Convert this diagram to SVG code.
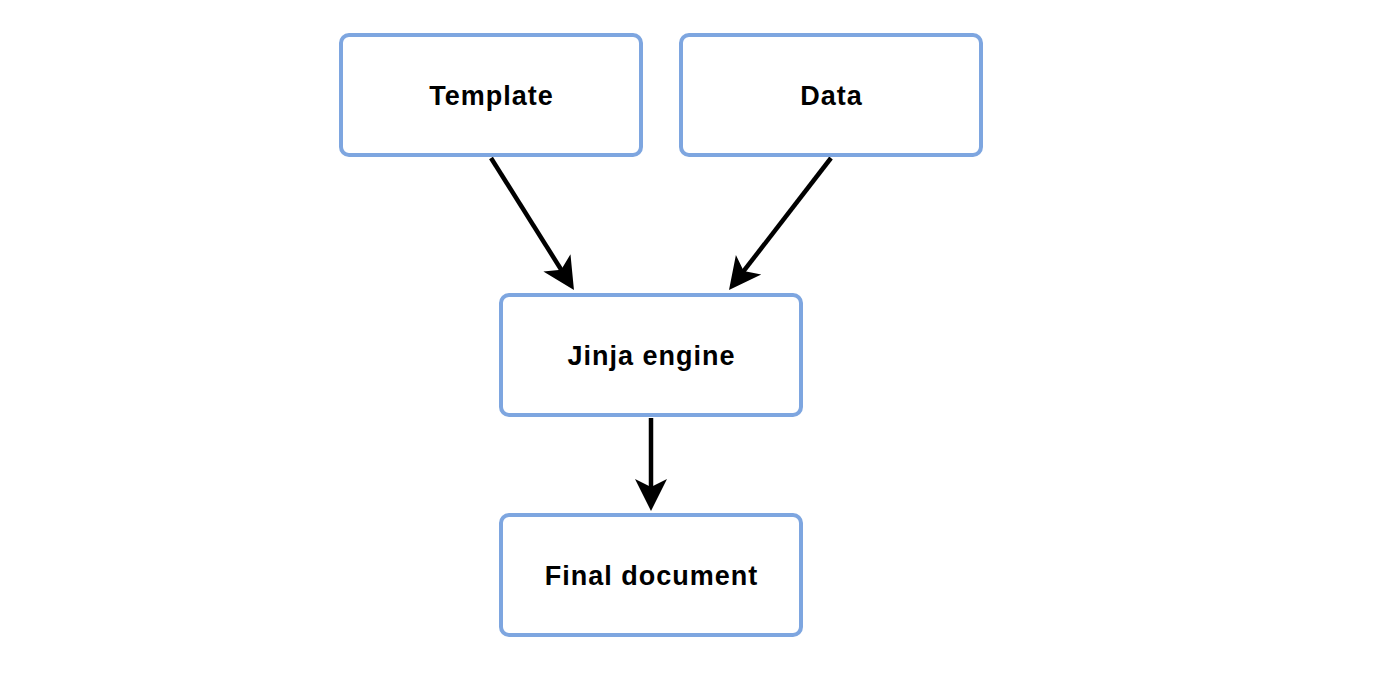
<svg xmlns="http://www.w3.org/2000/svg" width="1378" height="688" viewBox="0 0 1378 688">
<style>
.box{fill:#fff;stroke:#7EA6E0;stroke-width:4}
.lbl{font-family:"Liberation Sans",Arial,sans-serif;font-weight:bold;font-size:27px;letter-spacing:1px;fill:#000;text-anchor:middle}
.edge{stroke:#000;stroke-width:4.5;fill:none}
</style>
<defs>
<marker id="ah" markerUnits="userSpaceOnUse" markerWidth="36" markerHeight="36" viewBox="0 0 36 36" refX="24" refY="18" orient="auto">
<path d="M0,2 L32,18 L0,34 L8,18 Z" fill="#000"/>
</marker>
</defs>
<rect width="1378" height="688" fill="#fff"/>
<g id="connectors">
<line class="edge" x1="491" y1="158" x2="569.7" y2="283.2" marker-end="url(#ah)"/>
<line class="edge" x1="831" y1="158" x2="733.9" y2="283.7" marker-end="url(#ah)"/>
<line class="edge" x1="651" y1="418" x2="651" y2="503" marker-end="url(#ah)"/>
</g>
<g id="template"><rect class="box" x="341" y="35" width="300" height="120" rx="8"/><text class="lbl" x="491.5" y="105">Template</text></g>
<g id="data"><rect class="box" x="681" y="35" width="300" height="120" rx="8"/><text class="lbl" x="831.5" y="105">Data</text></g>
<g id="jinja"><rect class="box" x="501" y="295" width="300" height="120" rx="8"/><text class="lbl" x="651.5" y="365">Jinja engine</text></g>
<g id="final"><rect class="box" x="501" y="515" width="300" height="120" rx="8"/><text class="lbl" x="651.5" y="585">Final document</text></g>
</svg>
